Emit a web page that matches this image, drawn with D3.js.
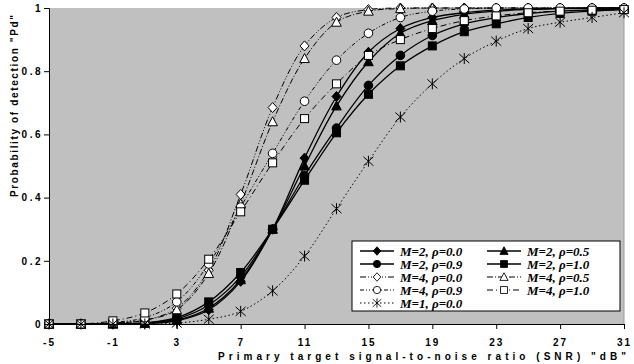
<!DOCTYPE html>
<html>
<head>
<meta charset="utf-8">
<script src="https://cdn.jsdelivr.net/npm/d3@7"></script>
<style>
  body { margin: 0; background: #fff; }
</style>
</head>
<body>
<div id="chart"></div>
<script>
// x values (dB)
let snr = [-5, -3, -1, 1, 3, 5, 7, 9, 11, 13, 15, 17, 19, 21, 23, 25, 27, 29, 31]

// Pd for every series
let m2r00 = [0, 0, 0, 0.002, 0.01, 0.045, 0.135, 0.3, 0.525, 0.72, 0.86, 0.935, 0.97, 0.985, 0.993, 0.997, 0.999, 1, 1]
let m2r05 = [0, 0, 0, 0.002, 0.012, 0.05, 0.14, 0.3, 0.5, 0.69, 0.83, 0.92, 0.96, 0.98, 0.99, 0.995, 0.998, 0.999, 1]
let m2r09 = [0, 0, 0, 0.003, 0.016, 0.06, 0.15, 0.3, 0.47, 0.62, 0.755, 0.85, 0.913, 0.95, 0.97, 0.982, 0.99, 0.994, 0.997]
let m2r10 = [0, 0, 0, 0.004, 0.02, 0.07, 0.163, 0.3, 0.455, 0.605, 0.727, 0.817, 0.88, 0.925, 0.95, 0.97, 0.983, 0.99, 0.995]
let m4r00 = [0, 0, 0.003, 0.012, 0.05, 0.17, 0.41, 0.685, 0.88, 0.97, 0.995, 1, 1, 1, 1, 1, 1, 1, 1]
let m4r05 = [0, 0, 0.003, 0.012, 0.045, 0.16, 0.38, 0.64, 0.84, 0.955, 0.99, 0.998, 1, 1, 1, 1, 1, 1, 1]
let m4r09 = [0, 0, 0.005, 0.02, 0.07, 0.19, 0.37, 0.54, 0.705, 0.835, 0.92, 0.97, 0.99, 0.997, 1, 1, 1, 1, 1]
let m4r10 = [0, 0, 0.01, 0.035, 0.095, 0.205, 0.355, 0.51, 0.65, 0.76, 0.85, 0.9, 0.935, 0.96, 0.975, 0.985, 0.99, 0.993, 0.995]
let m1r00 = [0, 0, 0, 0, 0.003, 0.015, 0.04, 0.105, 0.215, 0.365, 0.515, 0.655, 0.76, 0.84, 0.895, 0.935, 0.955, 0.97, 0.985]

let labels = ['M=2, \u03c1=0.0', 'M=2, \u03c1=0.5', 'M=2, \u03c1=0.9', 'M=2, \u03c1=1.0',
  'M=4, \u03c1=0.0', 'M=4, \u03c1=0.5', 'M=4, \u03c1=0.9', 'M=4, \u03c1=1.0', 'M=1, \u03c1=0.0']

let xTicks = [-5, -1, 3, 7, 11, 15, 19, 23, 27, 31]
let yTicks = [0, 0.2, 0.4, 0.6, 0.8, 1]

let series = [
  { name: labels[0], values: m2r00, marker: 'diamond', fill: '#000', dash: null },
  { name: labels[1], values: m2r05, marker: 'triangle', fill: '#000', dash: null },
  { name: labels[2], values: m2r09, marker: 'circle', fill: '#000', dash: null },
  { name: labels[3], values: m2r10, marker: 'square', fill: '#000', dash: null },
  { name: labels[4], values: m4r00, marker: 'diamond', fill: '#fff', dash: '6,2,1,2,1,2' },
  { name: labels[5], values: m4r05, marker: 'triangle', fill: '#fff', dash: '6,2,1,2' },
  { name: labels[6], values: m4r09, marker: 'circle', fill: '#fff', dash: '4,2,1,2,1,2' },
  { name: labels[7], values: m4r10, marker: 'square', fill: '#fff', dash: '6,3,1,3' },
  { name: labels[8], values: m1r00, marker: 'star', fill: '#000', dash: '1.5,2.5' }
]

let margin = { top: 8, left: 49, right: 10, bottom: 40 }
let totalW = 634
let totalH = 364
let width = totalW - margin.left - margin.right
let height = totalH - margin.top - margin.bottom

let svg = d3.select('#chart')
  .append('svg')
  .attr('width', totalW)
  .attr('height', totalH)
  .style('font-family', 'Arial, "Liberation Sans", sans-serif')

let g = svg.append('g')
  .attr('transform', `translate(${margin.left},${margin.top})`)

let xPositionScale = d3.scaleLinear().domain([-5, 31]).range([0, width])
let yPositionScale = d3.scaleLinear().domain([0, 1]).range([height, 0])

// plot area
g.append('rect')
  .attr('width', width)
  .attr('height', height)
  .attr('fill', '#c0c0c0')
g.append('line')
  .attr('x1', width).attr('x2', width)
  .attr('y1', 0).attr('y2', height)
  .attr('stroke', '#9a9a9a')

let line = d3.line()
  .x((d, i) => xPositionScale(snr[i]))
  .y(d => yPositionScale(d))
  .curve(d3.curveCatmullRom.alpha(0.5))

// marker drawing
function drawMarker(sel, type, fill) {
  if (type === 'circle') {
    sel.append('circle').attr('r', 4.3)
      .attr('fill', fill).attr('stroke', '#000').attr('stroke-width', 1)
  } else if (type === 'square') {
    sel.append('rect').attr('x', -4).attr('y', -4).attr('width', 8).attr('height', 8)
      .attr('fill', fill).attr('stroke', '#000').attr('stroke-width', 1)
  } else if (type === 'diamond') {
    sel.append('path').attr('d', 'M0,-5L4.5,0L0,5L-4.5,0Z')
      .attr('fill', fill).attr('stroke', '#000').attr('stroke-width', 1)
  } else if (type === 'triangle') {
    sel.append('path').attr('d', 'M0,-5L4.8,4L-4.8,4Z')
      .attr('fill', fill).attr('stroke', '#000').attr('stroke-width', 1)
  } else if (type === 'star') {
    sel.append('path').attr('d', 'M0,-5.5L0,5.5M-5,-4.5L5,4.5M5,-4.5L-5,4.5')
      .attr('fill', 'none').attr('stroke', '#000').attr('stroke-width', 1)
  }
}

series.forEach(s => {
  g.append('path')
    .datum(s.values)
    .attr('d', line)
    .attr('fill', 'none')
    .attr('stroke', '#000')
    .attr('stroke-width', s.dash ? 1 : 1.3)
    .attr('stroke-dasharray', s.dash)

  g.selectAll(null)
    .data(s.values)
    .enter()
    .append('g')
    .attr('transform', (d, i) => `translate(${xPositionScale(snr[i])},${yPositionScale(d)})`)
    .each(function() {
      drawMarker(d3.select(this), s.marker, s.fill)
    })
})

// axes
let xAxis = d3.axisBottom(xPositionScale).tickValues(xTicks).tickSize(5).tickFormat(d => String(d))
let xg = g.append('g')
  .attr('class', 'axis x-axis')
  .attr('transform', `translate(0,${height})`)
  .call(xAxis)
xg.select('.domain').attr('stroke', '#000')
xg.selectAll('text')
  .attr('dy', 14)
  .attr('font-family', 'Arial, "Liberation Sans", sans-serif')
  .attr('font-size', 10)
  .attr('font-weight', 'bold')
  .attr('letter-spacing', 2)
  .attr('fill', '#000')

let yAxis = d3.axisLeft(yPositionScale).tickValues(yTicks).tickSize(5).tickFormat(d => d === 0 || d === 1 ? d : d.toFixed(1))
let yg = g.append('g')
  .attr('class', 'axis y-axis')
  .call(yAxis)
yg.select('.domain').attr('stroke', '#000')
yg.selectAll('text')
  .attr('x', -6)
  .attr('font-family', 'Arial, "Liberation Sans", sans-serif')
  .attr('font-size', 10)
  .attr('font-weight', 'bold')
  .attr('letter-spacing', 2.5)
  .attr('fill', '#000')

// axis titles
svg.append('text')
  .attr('x', 218)
  .attr('y', 360)
  .attr('font-size', 10)
  .attr('font-weight', 'bold')
  .attr('textLength', 408)
  .attr('lengthAdjust', 'spacing')
  .text('Primary target signal-to-noise ratio (SNR) "dB"')

svg.append('text')
  .attr('transform', 'translate(18,197) rotate(-90)')
  .attr('font-size', 10)
  .attr('font-weight', 'bold')
  .attr('textLength', 182)
  .attr('lengthAdjust', 'spacing')
  .text('Probability of detection "Pd"')

// legend
let legend = svg.append('g').attr('transform', 'translate(352,241)')
legend.append('rect')
  .attr('width', 268)
  .attr('height', 70)
  .attr('fill', '#fff')
  .attr('stroke', '#000')

series.forEach((s, i) => {
  let col = i % 2
  let row = Math.floor(i / 2)
  let item = legend.append('g')
    .attr('transform', `translate(${8 + col * 127},${10 + row * 13})`)
  item.append('line')
    .attr('x1', 0).attr('x2', 34)
    .attr('stroke', '#000')
    .attr('stroke-width', s.dash ? 1 : 1.3)
    .attr('stroke-dasharray', s.dash)
  let mk = item.append('g').attr('transform', 'translate(17,0) scale(0.85)')
  drawMarker(mk, s.marker, s.fill)
  item.append('text')
    .attr('x', 40)
    .attr('y', 4.5)
    .style('font-family', '"Liberation Serif", "Times New Roman", serif')
    .attr('font-size', 13)
    .attr('font-weight', 'bold')
    .attr('font-style', 'italic')
    .text(s.name)
})
</script>
</body>
</html>
